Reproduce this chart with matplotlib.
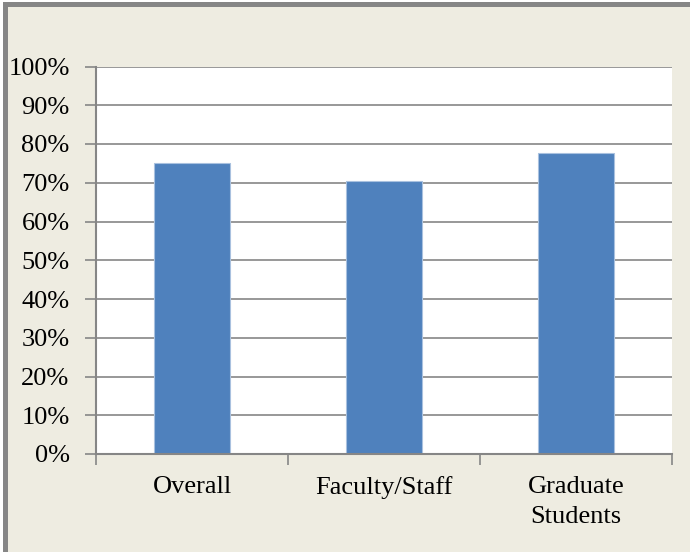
import numpy as np
import matplotlib.pyplot as plt
from matplotlib.patches import Rectangle
from matplotlib.ticker import FuncFormatter


categories = ["Overall", "Faculty/Staff", "Graduate\nStudents"]
values = [75.0, 70.5, 77.6]
y_ticks = [0, 10, 20, 30, 40, 50, 60, 70, 80, 90, 100]


def main():
    bg = '#EEECE1'
    grey = '#868686'

    fig = plt.figure(figsize=(6.9, 5.52), dpi=100)
    fig.patch.set_facecolor('white')

    # outer frame like the office chart area
    fig.patches.append(Rectangle((3 / 690, 0), 1, 1 - 2 / 552, transform=fig.transFigure,
                                 facecolor=bg, edgecolor='none', zorder=-2))
    fig.patches.append(Rectangle((3 / 690, 0), 5 / 690, 1 - 2 / 552, transform=fig.transFigure,
                                 facecolor=grey, edgecolor='none', zorder=-1))
    fig.patches.append(Rectangle((3 / 690, 1 - 7 / 552), 1, 5 / 552, transform=fig.transFigure,
                                 facecolor=grey, edgecolor='none', zorder=-1))

    ax = fig.add_axes([96 / 690, 98 / 552, 576 / 690, 387.5 / 552])
    ax.set_facecolor('white')

    x = np.arange(len(categories))
    ax.bar(x, values, width=0.4, color='#4F81BD', edgecolor='#A9C1DF',
           linewidth=0.8, zorder=3)

    ax.set_xlim(-0.5, len(categories) - 0.5)
    ax.set_ylim(0, 100)
    ax.set_yticks(y_ticks)
    ax.yaxis.set_major_formatter(FuncFormatter(lambda v, p: f"{v:.0f}%"))
    ax.grid(axis='y', color=grey, linewidth=1.2, zorder=1)

    # category labels sit between boundary ticks
    ax.set_xticks(x)
    ax.set_xticklabels(categories)
    ax.set_xticks(np.arange(-0.5, len(categories), 1.0), minor=True)
    ax.tick_params(axis='x', which='major', length=0, pad=16)
    ax.tick_params(axis='x', which='minor', length=8, width=1.2, color=grey)
    ax.tick_params(axis='y', length=8, width=1.2, color=grey, pad=11)

    for lab in ax.get_xticklabels() + ax.get_yticklabels():
        lab.set_fontfamily('Liberation Serif')
        lab.set_fontsize(19)
        lab.set_color('black')
    for lab in ax.get_xticklabels():
        lab.set_linespacing(1.45)

    for s in ['top', 'right']:
        ax.spines[s].set_visible(False)
    for s in ['left', 'bottom']:
        ax.spines[s].set_color(grey)
        ax.spines[s].set_linewidth(1.5)
        ax.spines[s].set_zorder(4)

    plt.savefig('out.png', dpi=100, facecolor=fig.get_facecolor())


if __name__ == '__main__':
    main()
